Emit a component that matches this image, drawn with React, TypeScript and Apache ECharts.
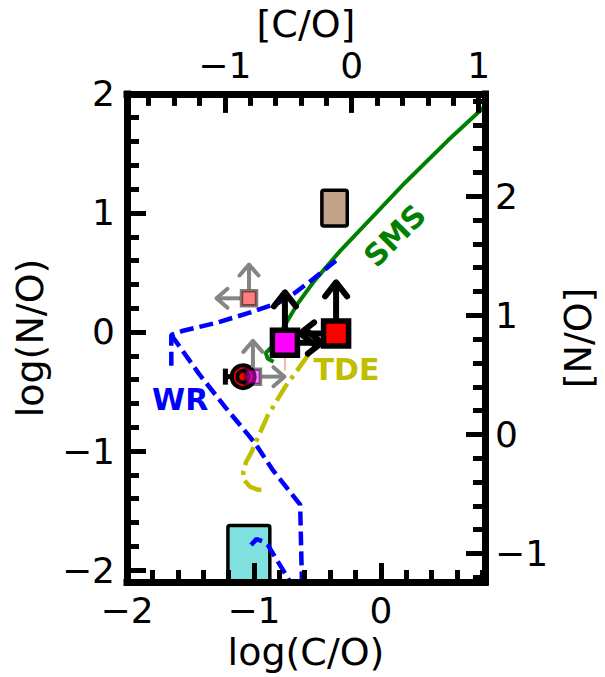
import React, { useEffect, useRef } from "react";
import * as echarts from "echarts";

// ---- axis ranges ----
const xRange = [-2, 0.82]; // log(C/O)
const yRange = [-2.1, 2]; // log(N/O)
const solarCO = 0.23; // [C/O] = log(C/O) + solarCO
const solarNO = 0.86; // [N/O] = log(N/O) + solarNO

// ---- SMS track (green solid) ----
const smsX = [-0.845, -0.891, -0.907, -0.853, -0.76, -0.659, -0.527, -0.326, 0.194, 0.527, 0.83];
const smsY = [-0.25, -0.225, -0.175, -0.117, 0.05, 0.233, 0.425, 0.675, 1.258, 1.608, 1.908];

// ---- WR track (blue dashed), three pieces ----
const wrUpperX = [-1.651, -1.651, -1.566, -1.302, -1.047, -0.814, -0.682, -0.558, -0.333];
const wrUpperY = [-0.283, -0.025, 0.008, 0.075, 0.158, 0.242, 0.325, 0.425, 0.617];
const wrLowerX = [-1.651, -1.434, -1.225, -0.992, -0.853, -0.636, -0.62];
const wrLowerY = [-0.025, -0.35, -0.633, -0.933, -1.158, -1.45, -2.2];
const wrHookX = [-1.023, -0.98, -0.93, -0.89, -0.72, -0.67];
const wrHookY = [-1.79, -1.74, -1.76, -1.79, -2.09, -2.2];

// ---- TDE track (olive dash-dot) ----
const tdeX = [-0.57, -0.752, -0.891, -1.023, -1.062, -1.085, -1.078, -1.031, -0.969, -0.907];
const tdeY = [-0.19, -0.458, -0.7, -1.017, -1.092, -1.175, -1.242, -1.3, -1.325, -1.325];

// ---- boxes [xmin, xmax, ymin, ymax] ----
const tanBox = [-0.465, -0.265, 0.89, 1.19];
const cyanBox = [-1.205, -0.875, -2.3, -1.625];

// ---- lower limits (black-edged squares): x, y, arrow tip y, arrow tip x ----
const limitX = [-0.756, -0.353];
const limitY = [-0.09, -0.012];
const limitTipY = [0.333, 0.417];
const limitTipX = [-0.465, -0.636];

// ---- translucent points with grey arrows ----
const greyX = [-1.039, -1.008];
const greyY = [0.283, -0.375];
const greyTipY = [0.567, -0.075];
const greyTipX = [-1.295, -0.76];

// ---- black circle with x error bar ----
const circleX = [-1.085];
const circleY = [-0.375];
const circleErrLo = [-1.225];

// ---- pink error bar ----
const pinkX = [-0.756, -0.756];
const pinkY = [-0.09, -0.325];

// ---- track labels ----
const labelText = ["SMS", "TDE", "WR"];
const labelX = [0.11, -0.271, -1.581];
const labelY = [0.81, -0.317, -0.567];
const labelRot = [45, 0, 0];

const FONT = "DejaVu Sans";

const zip = (xs: number[], ys: number[]) => xs.map((x, i) => [x, ys[i]]);

function arrow(sx: number, sy: number, tx: number, ty: number, color: string, width: number, headLen: number, headHalf: number) {
  const dx = tx - sx;
  const dy = ty - sy;
  const L = Math.hypot(dx, dy) || 1;
  const ux = dx / L;
  const uy = dy / L;
  const bx = tx - ux * headLen;
  const by = ty - uy * headLen;
  const px = -uy;
  const py = ux;
  return [
    { type: "line", shape: { x1: sx, y1: sy, x2: tx, y2: ty }, style: { stroke: color, lineWidth: width, lineCap: "butt" } },
    {
      type: "polyline",
      shape: { points: [[bx + px * headHalf, by + py * headHalf], [tx, ty], [bx - px * headHalf, by - py * headHalf]] },
      style: { stroke: color, lineWidth: width, fill: null, lineCap: "round", lineJoin: "round" },
    },
  ];
}

const tickFmt = (v: number) => (Math.abs(v - Math.round(v)) < 1e-6 ? String(Math.round(v)).replace("-", "\u2212") : "");

function axis(extra: any) {
  return {
    type: "value",
    z: 10,
    splitNumber: 4,
    minInterval: 1,
    maxInterval: 1,
    axisLine: { show: true, onZero: false, lineStyle: { color: "#000", width: 7, cap: "square" } },
    axisTick: { show: true, inside: true, length: 19, lineStyle: { color: "#000", width: 5 } },
    minorTick: { show: true, splitNumber: 5, length: 12, lineStyle: { color: "#000", width: 5 } },
    splitLine: { show: false },
    minorSplitLine: { show: false },
    axisLabel: { fontSize: 36, color: "#000", fontFamily: FONT, margin: 10, formatter: tickFmt },
    nameLocation: "middle",
    nameTextStyle: { fontSize: 38, color: "#000", fontFamily: FONT },
    ...extra,
  };
}

export default function App() {
  const ref = useRef<HTMLDivElement>(null);
  useEffect(() => {
    if (!ref.current) return;
    const chart = echarts.init(ref.current, null, { renderer: "svg" });

    const boxSeries = (box: number[], fill: string) => ({
      type: "custom",
      clip: true,
      z: 2,
      data: [box],
      renderItem: (params: any, api: any) => {
        const p0 = api.coord([api.value(0), api.value(3)]);
        const p1 = api.coord([api.value(1), api.value(2)]);
        return {
          type: "rect",
          shape: { x: p0[0], y: p0[1], width: p1[0] - p0[0], height: p1[1] - p0[1], r: 2 },
          style: { fill, stroke: "#000", lineWidth: 3.5 },
        };
      },
    });

    const lineSeries = (xs: number[], ys: number[], color: string, type: any, width: number) => ({
      type: "line",
      data: zip(xs, ys),
      showSymbol: false,
      symbol: "none",
      clip: true,
      z: 3,
      lineStyle: { color, width, type, cap: "butt" },
      silent: true,
    });

    const option: any = {
      animation: false,
      grid: { left: 127, right: 115, top: 91, bottom: 95, containLabel: false },
      xAxis: [
        axis({ position: "bottom", min: xRange[0], max: xRange[1], name: "log(C/O)", nameGap: 47, splitNumber: 3 }),
        axis({ position: "top", min: xRange[0] + solarCO, max: xRange[1] + solarCO, name: "[C/O]", nameGap: 42, splitNumber: 3 }),
      ],
      yAxis: [
        axis({ position: "left", min: yRange[0], max: yRange[1], name: "log(N/O)", nameGap: 78, nameRotate: 90, axisLabel: { fontSize: 36, color: "#000", fontFamily: FONT, margin: 12, formatter: tickFmt } }),
        axis({ position: "right", min: yRange[0] + solarNO, max: yRange[1] + solarNO, name: "[N/O]", nameGap: 74, nameRotate: 90, axisLabel: { fontSize: 36, color: "#000", fontFamily: FONT, margin: 10, formatter: tickFmt } }),
      ],
      series: [
        boxSeries(tanBox, "#c4a38b"),
        boxSeries(cyanBox, "#80dfdf"),
        lineSeries(smsX, smsY, "#008000", "solid", 4),
        lineSeries(wrUpperX, wrUpperY, "#0000ff", [14, 6], 4.5),
        lineSeries(wrLowerX, wrLowerY, "#0000ff", [14, 6], 4.5),
        lineSeries(wrHookX, wrHookY, "#0000ff", [14, 6], 4.5),
        lineSeries(tdeX, tdeY, "#bfbf00", [20, 6, 4, 6], 4.5),
        // black circle with error bar
        {
          type: "custom",
          z: 4,
          clip: false,
          data: circleX.map((x, i) => [x, circleY[i], circleErrLo[i]]),
          renderItem: (params: any, api: any) => {
            const c = api.coord([api.value(0), api.value(1)]);
            const lo = api.coord([api.value(2), api.value(1)]);
            return {
              type: "group",
              children: [
                { type: "line", shape: { x1: lo[0], y1: c[1], x2: c[0], y2: c[1] }, style: { stroke: "#000", lineWidth: 5 } },
                { type: "line", shape: { x1: lo[0], y1: c[1] - 8, x2: lo[0], y2: c[1] + 8 }, style: { stroke: "#000", lineWidth: 5 } },
                { type: "circle", shape: { cx: c[0], cy: c[1], r: 13.5 }, style: { fill: "#000" } },
                { type: "circle", shape: { cx: c[0], cy: c[1], r: 8.5 }, style: { fill: null, stroke: "#ff0000", lineWidth: 1.5 } },
                { type: "circle", shape: { cx: c[0], cy: c[1], r: 4 }, style: { fill: "#ff0000" } },
              ],
            };
          },
        },
        // translucent points with grey arrows
        {
          type: "custom",
          z: 5,
          clip: false,
          data: greyX.map((x, i) => [x, greyY[i], greyTipY[i], greyTipX[i]]),
          renderItem: (params: any, api: any) => {
            const fills = ["rgba(255,0,0,0.5)", "rgba(255,0,255,0.5)"];
            const c = api.coord([api.value(0), api.value(1)]);
            const up = api.coord([api.value(0), api.value(2)]);
            const side = api.coord([api.value(3), api.value(1)]);
            const h = 9;
            const sdir = Math.sign(side[0] - c[0]);
            return {
              type: "group",
              children: [
                ...arrow(c[0], c[1] - h, up[0], up[1], "#858585", 4, 11, 9.5),
                ...arrow(c[0] + sdir * h, c[1], side[0], side[1], "#858585", 4, 11, 9.5),
                {
                  type: "rect",
                  shape: { x: c[0] - 7.5, y: c[1] - 7.5, width: 15, height: 15 },
                  style: { fill: fills[params.dataIndex], stroke: "rgba(0,0,0,0.5)", lineWidth: 3.5 },
                },
              ],
            };
          },
        },
        // pink error bar
        {
          type: "line",
          data: zip(pinkX, pinkY),
          showSymbol: false,
          symbol: "none",
          z: 5,
          lineStyle: { color: "#ff9999", width: 1.5 },
        },
        // lower limits with black arrows
        {
          type: "custom",
          z: 6,
          clip: false,
          data: limitX.map((x, i) => [x, limitY[i], limitTipY[i], limitTipX[i]]),
          renderItem: (params: any, api: any) => {
            const fills = ["#ff00ff", "#ff0000"];
            const c = api.coord([api.value(0), api.value(1)]);
            const up = api.coord([api.value(0), api.value(2)]);
            const side = api.coord([api.value(3), api.value(1)]);
            return {
              type: "group",
              children: [
                ...arrow(c[0], c[1], up[0], up[1], "#000", 6, 14, 11),
                ...arrow(c[0], c[1], side[0], side[1], "#000", 6, 14, 11),
                {
                  type: "rect",
                  shape: { x: c[0] - 12.5, y: c[1] - 12.5, width: 25, height: 25 },
                  style: { fill: fills[params.dataIndex], stroke: "#000", lineWidth: 5.5 },
                },
              ],
            };
          },
        },
        // track labels
        {
          type: "custom",
          z: 7,
          clip: false,
          data: labelX.map((x, i) => [x, labelY[i], labelRot[i]]),
          renderItem: (params: any, api: any) => {
            const colors = ["#008000", "#bfbf00", "#0000ff"];
            const c = api.coord([api.value(0), api.value(1)]);
            return {
              type: "text",
              x: c[0],
              y: c[1],
              rotation: (api.value(2) * Math.PI) / 180,
              style: {
                text: labelText[params.dataIndex],
                x: 0,
                y: 0,
                fill: colors[params.dataIndex],
                font: `bold 30px '${FONT}'`,
                align: "center",
                verticalAlign: "middle",
                textAlign: "center",
                textVerticalAlign: "middle",
              },
            };
          },
        },
      ],
    };
    chart.setOption(option);
    return () => chart.dispose();
  }, []);
  return <div ref={ref} style={{ position: "fixed", left: 0, top: 0, width: 605, height: 677, background: "#fff" }} />;
}
